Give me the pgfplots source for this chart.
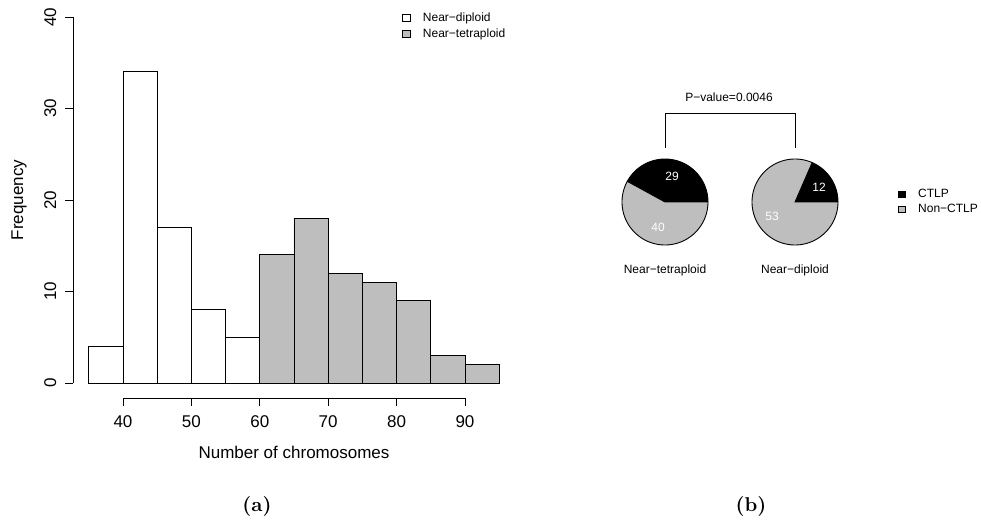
\documentclass[border=0pt]{standalone}
\usepackage{fontspec}
\usepackage{pgfplots}
\pgfplotsset{compat=1.18}
\newfontfamily\arial{Liberation Sans}
\definecolor{rgray}{HTML}{BEBEBE}
\newcommand{\lblfont}{\arial\fontsize{8.5}{10}\selectfont}
\newcommand{\smfont}{\arial\fontsize{6.0}{7}\selectfont}
\begin{document}
\begin{tikzpicture}
\path[use as bounding box] (0,0) rectangle (490.5pt,260.5pt);
\begin{axis}[
  at={(44.4pt,69pt)}, anchor=south west,
  scale only axis, width=205.2pt, height=183pt,
  xmin=35, xmax=95, ymin=0, ymax=40,
  axis x line=bottom, axis y line=left,
  axis line style={draw=none,-},
  axis x line shift=7.5pt, axis y line shift=7.9pt,
  xtick={40,50,...,90}, ytick={0,10,...,40},
  tick align=outside, major tick length=3.8pt,
  tick style={black, line width=0.45pt},
  ticklabel style={font=\lblfont},
  /pgf/number format/assume math mode=true,
  xticklabel style={inner ysep=5pt},
  yticklabel style={rotate=90, anchor=south, inner ysep=4.3pt},
  xlabel={Number of chromosomes}, ylabel={Frequency},
  label style={font=\lblfont},
  xlabel style={at={(axis description cs:0.5,-0.1885)}, anchor=center},
  ylabel style={at={(axis description cs:-0.170,0.5)}, anchor=center},
  clip=false,
  legend image code/.code={\draw[#1, line width=0.4pt] (0pt,-1.6pt) rectangle (3.6pt,1.6pt);},
  legend style={at={(axis description cs:0.763,1.016)}, anchor=north west, draw=none, fill=none,
    font=\smfont, inner sep=0pt, row sep=1.5pt,
    nodes={inner sep=0pt, text height=5pt, text depth=1.5pt},
    /tikz/every odd column/.style={column sep=6.3pt}},
  legend cell align=left,
]
\addplot[ybar, bar width=5, bar shift=0pt, fill=white, draw=black, line width=0.45pt, forget plot]
  coordinates {(37.5,4) (42.5,34) (47.5,17) (52.5,8) (57.5,5)};
\addplot[ybar, bar width=5, bar shift=0pt, fill=rgray, draw=black, line width=0.45pt, forget plot]
  coordinates {(62.5,14) (67.5,18) (72.5,12) (77.5,11) (82.5,9) (87.5,3) (92.5,2)};
\addplot[black, line width=0.45pt, xshift=-7.9pt, forget plot] coordinates {(35,0) (35,40)};
\addplot[black, line width=0.45pt, yshift=-7.5pt, forget plot] coordinates {(40,0) (90,0)};
\addlegendimage{draw=black, fill=white}
\addlegendentry{Near−diploid}
\addlegendimage{draw=black, fill=rgray}
\addlegendentry{Near−tetraploid}
\end{axis}

\begin{axis}[
  at={(300pt,110.5pt)}, anchor=south west,
  scale only axis, width=190.5pt, height=110pt,
  xmin=600, xmax=981, ymin=-300, ymax=-80,
  hide axis, clip=false,
  legend image code/.code={\draw[#1, line width=0.4pt] (0pt,-1.6pt) rectangle (3.6pt,1.6pt);},
  legend style={at={(axis description cs:0.780,0.512)}, anchor=north west, draw=none, fill=none,
    font=\smfont, inner sep=0pt, row sep=1pt,
    nodes={inner sep=0pt, text height=5pt, text depth=1.5pt},
    /tikz/every odd column/.style={column sep=6.3pt}},
  legend cell align=left,
]
% Near-tetraploid: CTLP 29, Non-CTLP 40
\addplot[fill=black, draw=black, line width=0.45pt, domain=0:{360*29/(29+40)}, samples=60, forget plot]
  ({665+43*cos(x)},{-202+43*sin(x)}) -- (665,-202) -- cycle;
\addplot[fill=rgray, draw=black, line width=0.45pt, domain={360*29/(29+40)}:360, samples=80, forget plot]
  ({665+43*cos(x)},{-202+43*sin(x)}) -- (665,-202) -- cycle;
% Near-diploid: CTLP 12, Non-CTLP 53
\addplot[fill=black, draw=black, line width=0.45pt, domain=0:{360*12/(12+53)}, samples=40, forget plot]
  ({795+43*cos(x)},{-202+43*sin(x)}) -- (795,-202) -- cycle;
\addplot[fill=rgray, draw=black, line width=0.45pt, domain={360*12/(12+53)}:360, samples=100, forget plot]
  ({795+43*cos(x)},{-202+43*sin(x)}) -- (795,-202) -- cycle;
\addplot[black, line width=0.45pt, forget plot] coordinates {(665,-148) (665,-113) (795,-113) (795,-148)};
\node[font=\smfont] at (729,-97) {P−value=0.0046};
\node[font=\smfont, white] at (672,-176) {29};
\node[font=\smfont, white] at (658,-227) {40};
\node[font=\smfont, white] at (819,-187) {12};
\node[font=\smfont, white] at (772,-216) {53};
\node[font=\smfont] at (665,-270) {Near−tetraploid};
\node[font=\smfont] at (795,-270) {Near−diploid};
\addlegendimage{draw=black, fill=black}
\addlegendentry{CTLP}
\addlegendimage{draw=black, fill=rgray}
\addlegendentry{Non−CTLP}
\end{axis}
\node[font=\bfseries] at (128.5pt,7.5pt) {(a)};
\node[font=\bfseries] at (375.5pt,7.5pt) {(b)};
\end{tikzpicture}
\end{document}
